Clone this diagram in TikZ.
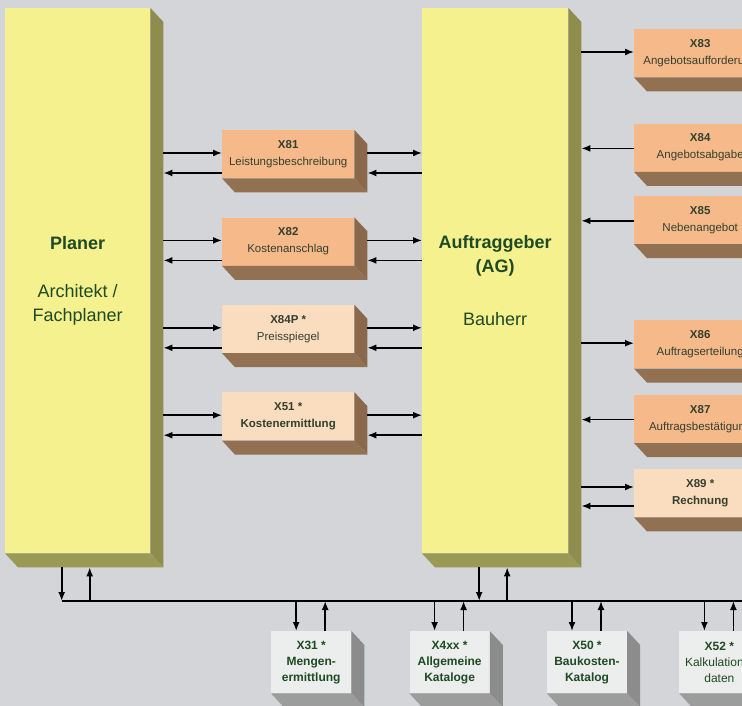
\documentclass[tikz,border=0pt]{standalone}
\usepackage{fontspec}
\setmainfont{Liberation Sans}
\usepackage{xcolor}
\usetikzlibrary{arrows.meta,positioning,calc}
\definecolor{bggray}{HTML}{D3D5D8}
\definecolor{yfront}{HTML}{F5F18E}
\definecolor{yside}{HTML}{8E8D4E}
\definecolor{ybottom}{HTML}{9A9955}
\definecolor{ofront}{HTML}{F6B98A}
\definecolor{pfront}{HTML}{FADCBE}
\definecolor{oside}{HTML}{8A684B}
\definecolor{obottom}{HTML}{927152}
\definecolor{gfront}{HTML}{ECEDED}
\definecolor{gside}{HTML}{8C8C8C}
\definecolor{gbottom}{HTML}{9C9C9C}
\definecolor{txtgreen}{HTML}{1F4A24}
\definecolor{txtdark}{HTML}{34402F}

\begin{document}
\begin{tikzpicture}[
  x=1pt, y=-1pt,
  font=\fontsize{11.5}{17}\selectfont,
  party/.style={fill=yfront, text=txtgreen, align=center, inner sep=0pt, anchor=north west,
    minimum width=145pt, minimum height=545pt, font=\fontsize{18}{24}\selectfont},
  doc/.style={fill=ofront, text=txtdark, align=center, inner sep=0pt, anchor=north west,
    minimum width=132pt, minimum height=48pt},
  docnew/.style={doc, fill=pfront},
  cat/.style={fill=gfront, text=txtgreen, align=center, inner sep=0pt, anchor=north west,
    minimum width=80pt, minimum height=62pt, font=\fontsize{12}{16}\selectfont\bfseries},
  arr/.style={-{Latex[length=9pt,width=7pt]}, line width=1.6pt},
  bus/.style={line width=1.5pt}
]
\useasboundingbox (0,0) rectangle (742,706);
\clip (0,0) rectangle (742,706);
\fill[bggray] (0,0) rectangle (742,706);

% main parties
\node[party] (planer) at (5,8) {\textbf{Planer}\\[24pt]Architekt /\\Fachplaner};
\node[party, minimum width=146pt] (ag) at (422,8) {\textbf{Auftraggeber}\\\textbf{(AG)}\\[29pt]Bauherr};

% exchanged documents, middle column
\node[doc] (x81) at (222,130) {\textbf{X81}\\Leistungsbeschreibung};
\node[doc, below=39pt of x81] (x82) {\textbf{X82}\\Kostenanschlag};
\node[docnew, below=39pt of x82] (x84p) {\textbf{X84P *}\\Preisspiegel};
\node[docnew, below=39pt of x84p] (x51) {\textbf{X51 *}\\\textbf{Kostenermittlung}};

% exchanged documents, right column
\node[doc] (x83) at (634,29) {\textbf{X83}\\Angebotsaufforderung};
\node[doc, below=46pt of x83] (x84) {\textbf{X84}\\Angebotsabgabe};
\node[doc, below=24pt of x84] (x85) {\textbf{X85}\\Nebenangebot};
\node[doc, below=76pt of x85] (x86) {\textbf{X86}\\Auftragserteilung};
\node[doc, below=26pt of x86] (x87) {\textbf{X87}\\Auftragsbestätigung};
\node[docnew, below=26pt of x87] (x89) {\textbf{X89 *}\\\textbf{Rechnung}};

% catalogues
\node[cat] (x31) at (271,631) {X31 *\\Mengen-\\ermittlung};
\node[cat, right=58pt of x31] (x4xx) {X4xx *\\Allgemeine\\Kataloge};
\node[cat, right=57pt of x4xx] (x50) {X50 *\\Baukosten-\\Katalog};
\node[cat, right=52pt of x50] (x52) {X52 *\\\mdseries Kalkulations-\\\mdseries daten};

% 3d sides
\foreach \n/\s/\b in {planer/yside/ybottom, ag/yside/ybottom,
    x81/oside/obottom, x82/oside/obottom, x84p/oside/obottom, x51/oside/obottom,
    x83/oside/obottom, x84/oside/obottom, x85/oside/obottom, x86/oside/obottom,
    x87/oside/obottom, x89/oside/obottom,
    x31/gside/gbottom, x4xx/gside/gbottom, x50/gside/gbottom, x52/gside/gbottom}{
  \fill[\s] (\n.north east) -- ++(13,14) -- ($(\n.south east)+(13,14)$) -- (\n.south east) -- cycle;
  \fill[\b] (\n.south west) -- (\n.south east) -- ($(\n.south east)+(13,14)$) -- ($(\n.south west)+(13,14)$) -- cycle;
}

\coordinate (pside) at ($(planer.north east)+(13,0)$);
\coordinate (agside) at ($(ag.north east)+(13,0)$);

% Planer <-> documents <-> AG
\foreach \b in {x81,x82,x84p,x51}{
  \coordinate (\b-a) at ($(\b.north west)+(0,23)$);
  \coordinate (\b-b) at ($(\b.north west)+(0,43)$);
  \coordinate (\b-c) at ($(\b.north east)+(13,23)$);
  \coordinate (\b-d) at ($(\b.north east)+(13,43)$);
  \draw[arr] (pside |- \b-a) -- (\b-a);
  \draw[arr] (\b-b) -- (pside |- \b-b);
  \draw[arr] (\b-c) -- (ag.west |- \b-c);
  \draw[arr] (ag.west |- \b-d) -- (\b-d);
}

% AG <-> right column
\foreach \b in {x83,x86}{
  \coordinate (\b-a) at ($(\b.north west)+(0,23)$);
  \draw[arr] (agside |- \b-a) -- (\b-a);
}
\foreach \b in {x84,x85,x87}{
  \coordinate (\b-a) at ($(\b.north west)+(0,25)$);
  \draw[arr] (\b-a) -- (agside |- \b-a);
}
\coordinate (x89-a) at ($(x89.north west)+(0,18)$);
\coordinate (x89-b) at ($(x89.north west)+(0,37)$);
\draw[arr] (agside |- x89-a) -- (x89-a);
\draw[arr] (x89-b) -- (agside |- x89-b);

% bus to the catalogues
\coordinate (busend) at (760,601);
\foreach \n in {planer,ag}{
  \coordinate (\n-dn) at ($(\n.south)+(-16,14)$);
  \coordinate (\n-up) at ($(\n.south)+(12,14)$);
  \draw[arr] (\n-dn) -- (\n-dn |- busend);
  \draw[arr] (\n-up |- busend) -- (\n-up);
}
\draw[bus] (planer-dn |- busend) -- (busend);
\foreach \n in {x31,x4xx,x50,x52}{
  \coordinate (\n-dn) at ($(\n.north)+(-15,0)$);
  \coordinate (\n-up) at ($(\n.north)+(14,0)$);
  \draw[arr] (\n-dn |- busend) -- (\n-dn);
  \draw[arr] (\n-up) -- (\n-up |- busend);
}
\end{tikzpicture}
\end{document}
